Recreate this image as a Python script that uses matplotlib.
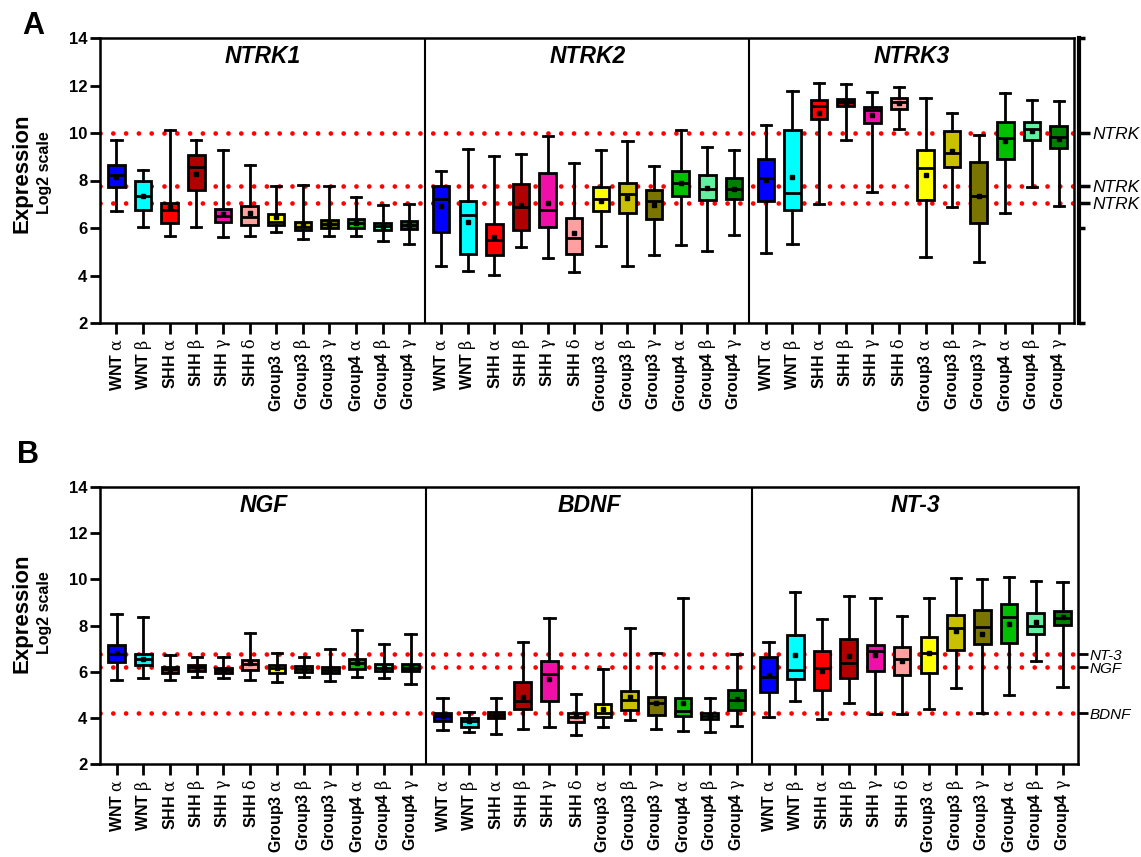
import numpy as np
import matplotlib.pyplot as plt

plt.rcParams['font.family'] = ['Liberation Sans', 'DejaVu Sans']
plt.rcParams['mathtext.fontset'] = 'custom'
plt.rcParams['mathtext.rm'] = 'DejaVu Serif'

# ---------------- data (log2 expression) ----------------
# each row: whisker low, Q1, median, Q3, whisker high, mean
subgroups = ['WNT α', 'WNT β', 'SHH α', 'SHH β', 'SHH γ', 'SHH δ',
             'Group3 α', 'Group3 β', 'Group3 γ', 'Group4 α', 'Group4 β', 'Group4 γ']
colors = ['#0000ff', '#00ffff', '#ff0000', '#b00000', '#f010a8', '#ffa0a0',
          '#ffff00', '#c8c000', '#7a7400', '#00c000', '#60f0a0', '#008000']

ntrk1 = [[6.70, 7.71, 8.22, 8.65, 9.71, 8.16],
         [6.06, 6.77, 7.36, 7.97, 8.43, 7.36],
         [5.67, 6.23, 6.74, 7.07, 10.14, 6.88],
         [6.04, 7.61, 8.55, 9.06, 9.71, 8.29],
         [5.61, 6.26, 6.52, 6.78, 9.30, 6.60],
         [5.68, 6.13, 6.48, 6.93, 8.65, 6.62],
         [5.83, 6.13, 6.26, 6.59, 7.75, 6.45],
         [5.54, 5.90, 6.06, 6.26, 7.83, 6.13],
         [5.67, 5.99, 6.16, 6.35, 7.78, 6.18],
         [5.65, 5.99, 6.19, 6.38, 7.29, 6.20],
         [5.46, 5.93, 6.09, 6.22, 6.96, 6.09],
         [5.33, 5.94, 6.13, 6.28, 7.03, 6.13]]
ntrk2 = [[4.42, 5.85, 7.21, 7.78, 8.41, 6.91],
         [4.18, 4.91, 6.55, 7.12, 9.33, 6.25],
         [4.03, 4.86, 5.49, 6.15, 9.04, 5.64],
         [5.20, 5.93, 6.88, 7.87, 9.11, 6.95],
         [4.72, 6.03, 6.76, 8.31, 9.87, 7.05],
         [4.13, 4.89, 5.59, 6.44, 8.74, 5.78],
         [5.23, 6.70, 7.21, 7.71, 9.28, 7.14],
         [4.39, 6.63, 7.42, 7.90, 9.65, 7.28],
         [4.88, 6.36, 7.14, 7.61, 8.60, 6.95],
         [5.27, 7.36, 7.90, 8.38, 10.13, 7.90],
         [5.05, 7.20, 7.64, 8.22, 9.40, 7.68],
         [5.71, 7.21, 7.66, 8.09, 9.27, 7.66]]
ntrk3 = [[4.95, 7.14, 8.10, 8.89, 10.34, 8.01],
         [5.31, 6.77, 7.49, 10.13, 11.78, 8.16],
         [7.02, 10.60, 11.15, 11.39, 12.10, 10.83],
         [9.71, 11.15, 11.30, 11.45, 12.07, 11.30],
         [7.50, 10.42, 10.96, 11.08, 11.74, 10.74],
         [10.15, 11.02, 11.30, 11.46, 11.93, 11.25],
         [4.76, 7.17, 8.51, 9.28, 11.49, 8.22],
         [6.88, 8.58, 9.15, 10.07, 10.86, 9.26],
         [4.57, 6.19, 7.33, 8.76, 9.93, 7.36],
         [6.63, 8.92, 9.81, 10.48, 11.68, 9.66],
         [7.74, 9.72, 10.15, 10.47, 11.37, 10.07],
         [6.92, 9.37, 9.85, 10.29, 11.34, 9.74]]
ngf = [[5.65, 6.42, 6.75, 7.14, 8.49, 6.81],
       [5.72, 6.27, 6.56, 6.78, 8.37, 6.56],
       [5.66, 5.94, 6.10, 6.20, 6.74, 6.10],
       [5.76, 6.05, 6.20, 6.30, 6.63, 6.20],
       [5.72, 5.94, 6.08, 6.17, 6.63, 6.08],
       [5.65, 6.08, 6.34, 6.49, 7.68, 6.37],
       [5.55, 5.94, 6.16, 6.27, 6.81, 6.16],
       [5.79, 5.98, 6.13, 6.23, 6.63, 6.13],
       [5.59, 5.94, 6.08, 6.20, 7.00, 6.08],
       [5.79, 6.10, 6.39, 6.56, 7.79, 6.39],
       [5.72, 6.01, 6.17, 6.32, 7.18, 6.17],
       [5.47, 6.03, 6.17, 6.32, 7.62, 6.17]]
bdnf = [[3.47, 3.85, 4.07, 4.20, 4.85, 4.10],
        [3.37, 3.62, 3.85, 3.98, 4.24, 3.85],
        [3.30, 3.98, 4.13, 4.24, 4.85, 4.13],
        [3.52, 4.39, 4.71, 5.55, 7.29, 4.90],
        [3.62, 4.72, 5.88, 6.45, 8.33, 5.69],
        [3.27, 3.84, 4.05, 4.21, 5.04, 4.08],
        [3.62, 4.05, 4.21, 4.60, 6.13, 4.39],
        [3.92, 4.36, 4.79, 5.16, 7.89, 4.92],
        [3.52, 4.13, 4.63, 4.92, 6.81, 4.63],
        [3.45, 4.10, 4.29, 4.85, 9.21, 4.63],
        [3.37, 3.95, 4.10, 4.21, 4.85, 4.10],
        [3.66, 4.36, 4.79, 5.21, 6.78, 4.82]]
nt3 = [[4.03, 5.14, 5.76, 6.63, 7.29, 5.87],
       [4.72, 5.69, 6.08, 7.60, 9.46, 6.71],
       [3.95, 5.21, 6.17, 6.90, 8.30, 6.05],
       [4.65, 5.74, 6.37, 7.40, 9.27, 6.66],
       [4.17, 6.01, 6.90, 7.17, 9.20, 6.71],
       [4.17, 5.87, 6.53, 7.07, 8.42, 6.46],
       [4.39, 5.94, 6.81, 7.50, 9.17, 6.81],
       [5.29, 6.95, 7.91, 8.45, 10.04, 7.76],
       [4.21, 7.18, 7.94, 8.66, 10.01, 7.65],
       [4.99, 7.26, 8.37, 8.92, 10.08, 8.05],
       [6.46, 7.65, 7.98, 8.52, 9.94, 8.13],
       [5.33, 8.01, 8.33, 8.62, 9.87, 8.37]]

receptor_lines = [10.0, 7.75, 7.05]
ligand_lines = [6.75, 6.2, 4.2]
ligand_names = ['NT-3', 'NGF', 'BDNF']

# ---------------- drawing ----------------
gap = 12.2
W, H = 1141, 857
fig = plt.figure(figsize=(W / 100, H / 100), dpi=100)
axA = fig.add_axes([100 / W, 1 - 323 / H, 974 / W, 285 / H])
axB = fig.add_axes([100 / W, 1 - 764 / H, 978 / W, 277 / H])

tick_labels = []
for s in subgroups:
    name, greek = s.split(' ')
    tick_labels.append(name + ' $\\mathrm{' + greek + '}$')


def draw_row(ax, genes, titles, refs):
    for v in refs:
        ax.axhline(v, color='red', lw=3.4, ls=(0, (0.01, 2.7)),
                   dash_capstyle='round', zorder=1)
    positions = []
    for g, data in enumerate(genes):
        stats = [dict(whislo=r[0], q1=r[1], med=r[2], q3=r[3], whishi=r[4], mean=r[5],
                      fliers=[])
                 for r in data]
        pos = g * gap + np.arange(len(data))
        positions.extend(pos)
        bp = ax.bxp(stats, positions=pos, widths=0.62, capwidths=0.38,
                    showmeans=True, showfliers=False, patch_artist=True, zorder=3,
                    boxprops=dict(linewidth=2, edgecolor='black'),
                    whiskerprops=dict(linewidth=2, color='black'),
                    capprops=dict(linewidth=2, color='black'),
                    medianprops=dict(linewidth=2, color='black'),
                    meanprops=dict(marker='s', markersize=3.5,
                                   markerfacecolor='black', markeredgecolor='black'))
        for patch, c in zip(bp['boxes'], colors):
            patch.set_facecolor(c)
        ax.text(g * gap + 5.5, 0.935, titles[g], transform=ax.get_xaxis_transform(),
                ha='center', va='center', fontsize=16.5, fontweight='bold', style='italic')
    for g in (1, 2):
        ax.axvline(g * gap - 0.62, color='black', lw=1.5, zorder=4)
    ax.set_xlim(-0.62, 3 * gap - 0.62)
    ax.set_ylim(2, 14)
    ax.set_yticks(range(2, 15, 2))
    ax.set_xticks(positions)
    ax.set_xticklabels(tick_labels * 3, rotation=90, fontsize=11.5, fontweight='bold')
    for lab in ax.get_yticklabels():
        lab.set_fontweight('bold')
    ax.tick_params(axis='y', labelsize=12, length=7, width=2, pad=2)
    ax.tick_params(axis='x', length=8, width=2, pad=3)
    for sp in ax.spines.values():
        sp.set_linewidth(1.8)


draw_row(axA, [ntrk1, ntrk2, ntrk3], ['NTRK1', 'NTRK2', 'NTRK3'], receptor_lines)
draw_row(axB, [ngf, bdnf, nt3], ['NGF', 'BDNF', 'NT-3'], ligand_lines)

# right-hand reference axis, panel A
axR = axA.twinx()
axR.set_ylim(2, 14)
for s in ['left', 'top', 'bottom']:
    axR.spines[s].set_visible(False)
axR.spines['right'].set_position(('outward', 3.5))
axR.spines['right'].set_linewidth(3)
axR.set_yticks(receptor_lines)
axR.set_yticklabels(['NTRK'] * 3, style='italic', fontsize=12.5)
axR.set_yticks([2, 6, 14], minor=True)
axR.tick_params(axis='y', which='major', length=8, width=2.5, pad=2)
axR.tick_params(axis='y', which='minor', length=4, width=2.5)

# right-hand labels, panel B
axL = axB.twinx()
axL.set_ylim(2, 14)
for s in ['left', 'top', 'bottom', 'right']:
    axL.spines[s].set_visible(False)
axL.set_yticks(ligand_lines)
axL.set_yticklabels(ligand_names, style='italic', fontsize=11)
axL.tick_params(axis='y', length=7, width=2, pad=1)

# axis titles and panel letters
for yc in (173, 613):
    fig.text(22 / W, 1 - yc / H, 'Expression', rotation=90, ha='center', va='center',
             fontsize=16, fontweight='bold')
    fig.text(45 / W, 1 - yc / H, 'Log2 scale', rotation=90, ha='center', va='center',
             fontsize=11.5, fontweight='bold')
fig.text(33 / W, 1 - 26 / H, 'A', ha='center', va='center', fontsize=22, fontweight='bold')
fig.text(28 / W, 1 - 455 / H, 'B', ha='center', va='center', fontsize=22, fontweight='bold')

fig.savefig('out.png', dpi=100)
